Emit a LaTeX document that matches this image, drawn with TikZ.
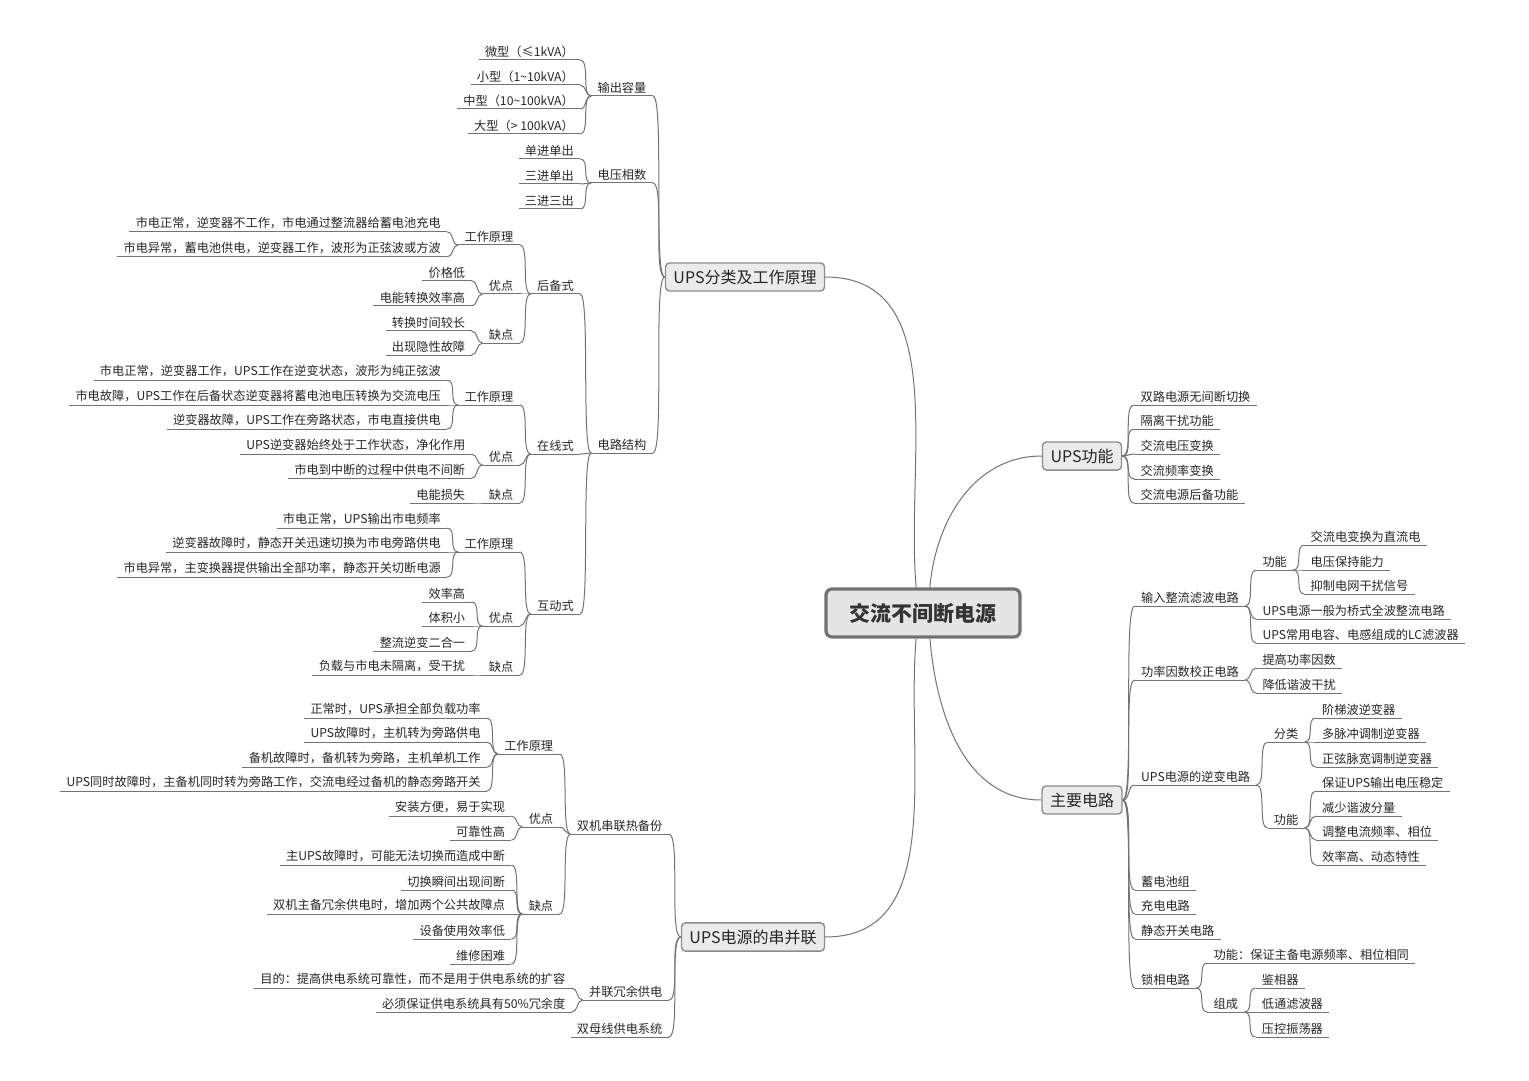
\documentclass[tikz,border=0pt]{standalone}
\usepackage{fontspec}
\setmainfont{Noto Sans CJK SC}
\begin{document}
\begin{tikzpicture}[x=0.5pt,y=-0.5pt,
 conn/.style={draw=black!55,line width=0.5pt},
 leafL/.style={anchor=south east,inner xsep=3pt,inner ysep=1.2pt,text=black!85,font=\fontsize{6.1}{7}\selectfont,
   append after command={(\tikzlastnode.south west) edge[conn] (\tikzlastnode.south east)}},
 leafR/.style={leafL,anchor=south west},
 box/.style={draw=black!45,fill=black!8,rounded corners=2pt,line width=0.7pt,font=\fontsize{8}{9}\selectfont,text=black!85,minimum height=14pt,inner xsep=4pt}]
\useasboundingbox (0,0) rectangle (1529,1080);
\newcommand\LC[4]{\node[leafL,xshift=-5.5pt] (#2) at (#1.south west |- 0,#3) {#4};
 \draw[conn] (#1.south west) to[out=180,in=0,max distance=5pt] (#2.south east);}
\newcommand\LB[4]{\node[leafL,xshift=-6pt] (#2) at (#1.west |- 0,#3) {#4};
 \draw[conn] (#1.west) to[out=180,in=0,max distance=6pt] (#2.south east);}
\newcommand\RC[4]{\node[leafR,xshift=5.5pt] (#2) at (#1.south east |- 0,#3) {#4};
 \draw[conn] (#1.south east) to[out=0,in=180,max distance=5pt] (#2.south west);}
\newcommand\RB[4]{\node[leafR,xshift=6pt] (#2) at (#1.east |- 0,#3) {#4};
 \draw[conn] (#1.east) to[out=0,in=180,max distance=6pt] (#2.south west);}

\node[draw=black!55,fill=black!10,rounded corners=3pt,line width=1.6pt,minimum width=97pt,minimum height=24pt,font=\fontsize{10.5}{12}\selectfont\bfseries,text=black!80] (c) at (923,613) {交流不间断电源};
\node[box] (b1) at (745,277) {UPS分类及工作原理};
\node[box] (b2) at (1082,456) {UPS功能};
\node[box] (b3) at (1082,800) {主要电路};
\node[box] (b4) at (753,937) {UPS电源的串并联};
\draw[conn] (c.105) to[out=95,in=0] (b1.east);
\draw[conn] (c.75) to[out=85,in=180] (b2.west);
\draw[conn] (c.-75) to[out=-85,in=180] (b3.west);
\draw[conn] (c.-105) to[out=-95,in=0] (b4.east);

% UPS分类
\LB{b1}{a1}{96}{输出容量}
\LB{b1}{a2}{183}{电压相数}
\LB{b1}{a3}{453}{电路结构}
\LC{a1}{a11}{60}{微型（≤1kVA）}
\LC{a1}{a12}{85}{小型（1\textasciitilde10kVA）}
\LC{a1}{a13}{109}{中型（10\textasciitilde100kVA）}
\LC{a1}{a14}{134}{大型（> 100kVA）}
\LC{a2}{a21}{159}{单进单出}
\LC{a2}{a22}{184}{三进单出}
\LC{a2}{a23}{209}{三进三出}
\LC{a3}{h}{294}{后备式}
\LC{a3}{z}{454}{在线式}
\LC{a3}{d}{614}{互动式}
\LC{h}{h1}{245}{工作原理}
\LC{h}{h2}{294}{优点}
\LC{h}{h3}{343}{缺点}
\LC{h1}{h11}{232}{市电正常，逆变器不工作，市电通过整流器给蓄电池充电}
\LC{h1}{h12}{257}{市电异常，蓄电池供电，逆变器工作，波形为正弦波或方波}
\LC{h2}{h21}{281}{价格低}
\LC{h2}{h22}{306}{电能转换效率高}
\LC{h3}{h31}{331}{转换时间较长}
\LC{h3}{h32}{355}{出现隐性故障}
\LC{z}{z1}{405}{工作原理}
\LC{z}{z2}{465}{优点}
\LC{z}{z3}{503}{缺点}
\LC{z1}{z11}{380}{市电正常，逆变器工作，UPS工作在逆变状态，波形为纯正弦波}
\LC{z1}{z12}{405}{市电故障，UPS工作在后备状态逆变器将蓄电池电压转换为交流电压}
\LC{z1}{z13}{429}{逆变器故障，UPS工作在旁路状态，市电直接供电}
\LC{z2}{z21}{454}{UPS逆变器始终处于工作状态，净化作用}
\LC{z2}{z22}{478}{市电到中断的过程中供电不间断}
\LC{z3}{z31}{503}{电能损失}
\LC{d}{d1}{552}{工作原理}
\LC{d}{d2}{626}{优点}
\LC{d}{d3}{675}{缺点}
\LC{d1}{d11}{528}{市电正常，UPS输出市电频率}
\LC{d1}{d12}{552}{逆变器故障时，静态开关迅速切换为市电旁路供电}
\LC{d1}{d13}{577}{市电异常，主变换器提供输出全部功率，静态开关切断电源}
\LC{d2}{d21}{602}{效率高}
\LC{d2}{d22}{626}{体积小}
\LC{d2}{d23}{651}{整流逆变二合一}
\LC{d3}{d31}{675}{负载与市电未隔离，受干扰}

% 串并联
\LB{b4}{s1}{834}{双机串联热备份}
\LB{b4}{s2}{1000}{并联冗余供电}
\LB{b4}{s3}{1037}{双母线供电系统}
\LC{s1}{s11}{754}{工作原理}
\LC{s1}{s12}{827}{优点}
\LC{s1}{s13}{914}{缺点}
\LC{s11}{s111}{718}{正常时，UPS承担全部负载功率}
\LC{s11}{s112}{742}{UPS故障时，主机转为旁路供电}
\LC{s11}{s113}{767}{备机故障时，备机转为旁路，主机单机工作}
\LC{s11}{s114}{791}{UPS同时故障时，主备机同时转为旁路工作，交流电经过备机的静态旁路开关}
\LC{s12}{s121}{816}{安装方便，易于实现}
\LC{s12}{s122}{840}{可靠性高}
\LC{s13}{s131}{865}{主UPS故障时，可能无法切换而造成中断}
\LC{s13}{s132}{890}{切换瞬间出现间断}
\LC{s13}{s133}{914}{双机主备冗余供电时，增加两个公共故障点}
\LC{s13}{s134}{939}{设备使用效率低}
\LC{s13}{s135}{964}{维修困难}
\LC{s2}{s21}{988}{目的：提高供电系统可靠性，而不是用于供电系统的扩容}
\LC{s2}{s22}{1012}{必须保证供电系统具有50\%冗余度}

% UPS功能
\RB{b2}{f1}{405}{双路电源无间断切换}
\RB{b2}{f2}{429}{隔离干扰功能}
\RB{b2}{f3}{454}{交流电压变换}
\RB{b2}{f4}{479}{交流频率变换}
\RB{b2}{f5}{503}{交流电源后备功能}

% 主要电路
\RB{b3}{m1}{606}{输入整流滤波电路}
\RB{b3}{m2}{680}{功率因数校正电路}
\RB{b3}{m3}{785}{UPS电源的逆变电路}
\RB{b3}{m4}{890}{蓄电池组}
\RB{b3}{m5}{914}{充电电路}
\RB{b3}{m6}{939}{静态开关电路}
\RB{b3}{m7}{988}{锁相电路}
\RC{m1}{m11}{570}{功能}
\RC{m1}{m12}{619}{UPS电源一般为桥式全波整流电路}
\RC{m1}{m13}{643}{UPS常用电容、电感组成的LC滤波器}
\RC{m11}{m111}{545}{交流电变换为直流电}
\RC{m11}{m112}{570}{电压保持能力}
\RC{m11}{m113}{594}{抑制电网干扰信号}
\RC{m2}{m21}{668}{提高功率因数}
\RC{m2}{m22}{693}{降低谐波干扰}
\RC{m3}{m31}{742}{分类}
\RC{m3}{m32}{828}{功能}
\RC{m31}{m311}{718}{阶梯波逆变器}
\RC{m31}{m312}{742}{多脉冲调制逆变器}
\RC{m31}{m313}{767}{正弦脉宽调制逆变器}
\RC{m32}{m321}{791}{保证UPS输出电压稳定}
\RC{m32}{m322}{816}{减少谐波分量}
\RC{m32}{m323}{840}{调整电流频率、相位}
\RC{m32}{m324}{865}{效率高、动态特性}
\RC{m7}{m71}{963}{功能：保证主备电源频率、相位相同}
\RC{m7}{m72}{1012}{组成}
\RC{m72}{m721}{988}{鉴相器}
\RC{m72}{m722}{1012}{低通滤波器}
\RC{m72}{m723}{1037}{压控振荡器}
\end{tikzpicture}
\end{document}
